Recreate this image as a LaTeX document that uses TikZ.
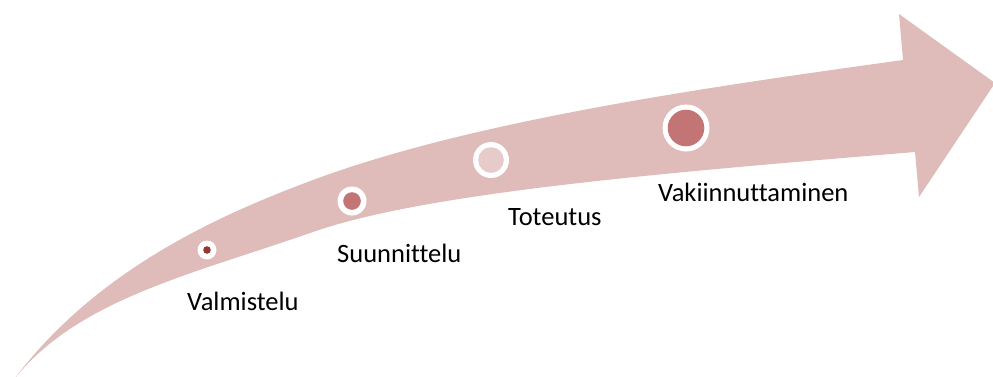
\documentclass[tikz,border=0pt]{standalone}
\usepackage{fontspec}
\setmainfont{Carlito}[RawFeature={-liga;-clig;-calt;-dlig}]
\definecolor{arrowpink}{HTML}{DFBBBA}
\definecolor{dotdark}{HTML}{953735}
\definecolor{dotmid}{HTML}{C27574}
\definecolor{dotlight}{HTML}{E7CACA}
\begin{document}
\begin{tikzpicture}[x=1pt,y=-1pt,
  lbl/.style={anchor=base west,inner sep=0pt,font=\fontsize{26.5}{30}\selectfont,text=black},
  ring/.style={circle,fill=white,inner sep=0pt,minimum size=#1},
  core/.style={circle,inner sep=0pt,minimum size=#1}]
\useasboundingbox (0,0) rectangle (993,376);
\clip (0,0) rectangle (993,376);
% arrow body
\fill[arrowpink]
  (12,382) .. controls (95,270) and (219,215) .. (313,180)
  .. controls (472.3,120.7) and (705,87.4) .. (903,60)
  -- (899,14) -- (995,83) -- (919,197) -- (915,152)
  .. controls (666,172.6) and (426,192.4) .. (313,232)
  .. controls (190,275) and (75,300) .. (12,382) -- cycle;
% markers
\node[ring=19pt] (r1) at (207,250) {};
\node[core=7.6pt,fill=dotdark] (c1) at (r1.center) {};
\node[ring=29pt] (r2) at (352,201) {};
\node[core=17.6pt,fill=dotmid] (c2) at (r2.center) {};
\node[ring=36pt] (r3) at (491,160) {};
\node[core=25.6pt,fill=dotlight] (c3) at (r3.center) {};
\node[ring=47pt] (r4) at (686,128) {};
\node[core=36.6pt,fill=dotmid] (c4) at (r4.center) {};
% labels
\node[lbl] (t1) at (187,310) {Valmistelu};
\node[lbl] (t2) at (337,262) {Suunnittelu};
\node[lbl] (t3) at (508,225) {Toteutus};
\node[lbl] (t4) at (658,201) {Vakiinnuttaminen};
\end{tikzpicture}
\end{document}
